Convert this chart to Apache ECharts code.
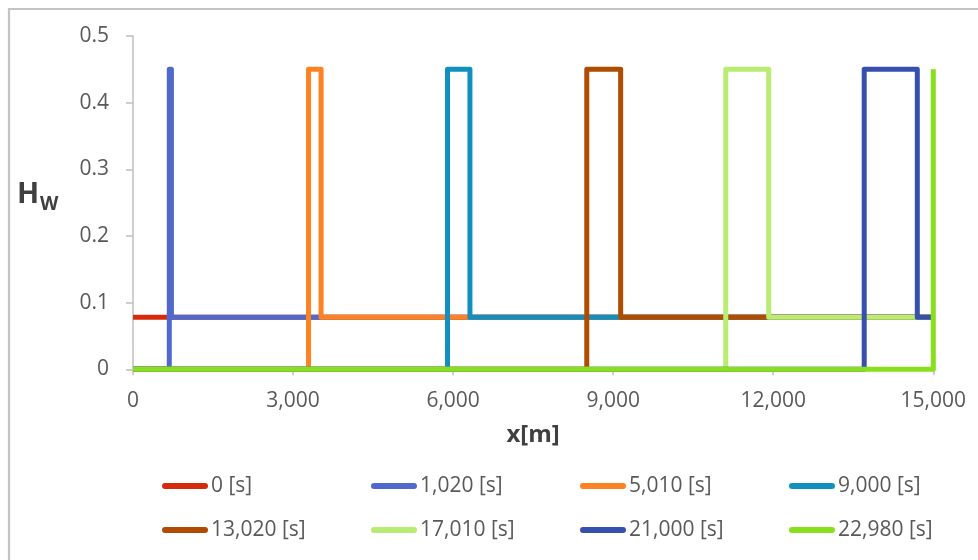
<!DOCTYPE html>
<html>
<head>
<meta charset="utf-8">
<script src="https://cdn.jsdelivr.net/npm/echarts@6/dist/echarts.min.js"></script>
<style>
html,body{margin:0;padding:0;background:#fff;}
#chart{width:978px;height:560px;}
</style>
</head>
<body>
<div id="chart"></div>
<script>
// ---- data ----
const seriesNames = ['0 [s]', '1,020 [s]', '5,010 [s]', '9,000 [s]', '13,020 [s]', '17,010 [s]', '21,000 [s]', '22,980 [s]'];
const seriesColors = ['#D52B0C', '#5069CC', '#FE8122', '#1190C0', '#AF4C02', '#B8EC72', '#3650AE', '#88DF1B'];
// profiles [x (m), Hw]
const t0     = [[0, 0.078], [15000, 0.078]];
const t1020  = [[0, 0], [680, 0], [680, 0.45], [720, 0.45], [720, 0.078], [15000, 0.078]];
const t5010  = [[0, 0], [3290, 0], [3290, 0.45], [3525, 0.45], [3525, 0.078], [15000, 0.078]];
const t9000  = [[0, 0], [5895, 0], [5895, 0.45], [6315, 0.45], [6315, 0.078], [15000, 0.078]];
const t13020 = [[0, 0], [8505, 0], [8505, 0.45], [9140, 0.45], [9140, 0.078], [15000, 0.078]];
const t17010 = [[0, 0], [11110, 0], [11110, 0.45], [11915, 0.45], [11915, 0.078], [15000, 0.078]];
const t21000 = [[0, 0], [13705, 0], [13705, 0.45], [14700, 0.45], [14700, 0.078], [15000, 0.078]];
const t22980 = [[0, 0], [15000, 0], [15000, 0.45]];
const seriesData = [t0, t1020, t5010, t9000, t13020, t17010, t21000, t22980];
const xTicks = [0, 3000, 6000, 9000, 12000, 15000];
const yTicks = [0, 0.1, 0.2, 0.3, 0.4, 0.5];

// ---- chart ----
const FONT = 'Open Sans';
const chart = echarts.init(document.getElementById('chart'), null, {renderer: 'canvas'});
const legendX = [162, 371, 580, 789];
const legendY = [475.5, 519.5];
const legends = seriesNames.map((n, i) => ({
  data: [n],
  left: legendX[i % 4],
  top: legendY[Math.floor(i / 4)],
  padding: 0,
  icon: 'path://M3,0 L43,0 A3,3 0 0 1 43,6 L3,6 A3,3 0 0 1 3,0 Z',
  itemWidth: 46,
  itemHeight: 6,
  selectedMode: false,
  textStyle: {fontFamily: FONT, fontSize: 21, color: '#595959', padding: [0, 0, 0, -2]}
}));

chart.setOption({
  animation: false,
  backgroundColor: '#ffffff',
  grid: {left: 133, right: 44.7, top: 36, bottom: 190.7, containLabel: false},
  legend: legends,
  graphic: [
    {type: 'rect', shape: {x: 9, y: 9, width: 1200, height: 800}, style: {fill: 'none', stroke: '#C4C4C4', lineWidth: 2.2}, silent: true},
    {type: 'text', left: 17, top: 180, style: {text: 'H', font: 'bold 29px "Open Sans"', fill: '#404040'}},
    {type: 'text', left: 40, top: 195, style: {text: 'W', font: 'bold 19px "Open Sans"', fill: '#404040'}}
  ],
  xAxis: {
    type: 'value',
    min: xTicks[0],
    max: xTicks[xTicks.length - 1],
    interval: xTicks[1] - xTicks[0],
    name: 'x[m]',
    nameLocation: 'middle',
    nameGap: 54,
    nameTextStyle: {fontFamily: FONT, fontSize: 24, fontWeight: 'bold', color: '#404040'},
    splitLine: {show: false},
    axisLine: {show: true, lineStyle: {color: '#BFBFBF', width: 1.5}},
    axisTick: {show: true, length: 6, lineStyle: {color: '#BFBFBF', width: 1.5}},
    axisLabel: {
      margin: 21,
      fontFamily: FONT, fontSize: 21, color: '#595959',
      formatter: v => v.toLocaleString('en-US')
    }
  },
  yAxis: {
    type: 'value',
    min: yTicks[0],
    max: yTicks[yTicks.length - 1],
    interval: 0.1,
    splitLine: {show: false},
    axisLine: {show: true, lineStyle: {color: '#BFBFBF', width: 1.5}},
    axisTick: {show: true, length: 7, lineStyle: {color: '#BFBFBF', width: 1.5}},
    axisLabel: {margin: 24, fontFamily: FONT, fontSize: 21, color: '#595959',
      formatter: v => String(Math.round(v * 10) / 10)}
  },
  series: seriesNames.map((n, i) => ({
    name: n,
    type: 'line',
    data: seriesData[i],
    symbol: 'none',
    clip: false,
    color: seriesColors[i],
    lineStyle: {width: 5, color: seriesColors[i], join: 'round', cap: 'butt'},
    emphasis: {disabled: true}
  }))
});
</script>
</body>
</html>
